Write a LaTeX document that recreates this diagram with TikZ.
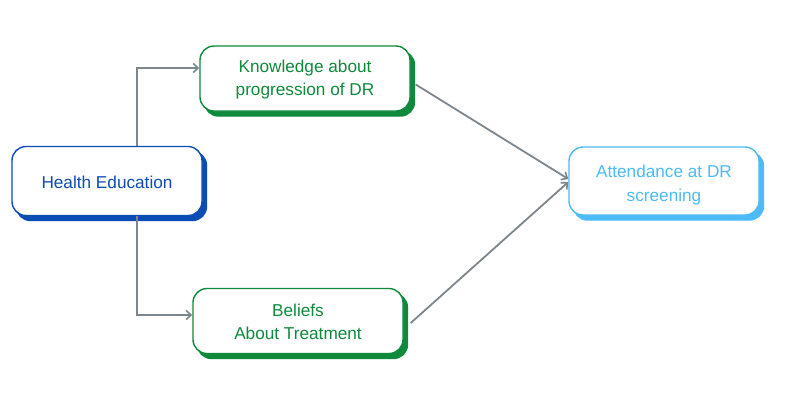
\documentclass[tikz,border=0pt]{standalone}
\usepackage{fontspec}
\setmainfont{Liberation Sans}
\usetikzlibrary{arrows.meta,shadows,calc}
\definecolor{heblue}{HTML}{0B4DB5}
\definecolor{kgreen}{HTML}{0F8A3C}
\definecolor{lblue}{HTML}{4DBBF7}
\definecolor{arrgray}{HTML}{7D868D}
\tikzset{
  box/.style={draw=#1, text=#1, fill=white, rounded corners=14pt, line width=1.4pt,
    align=center, font=\fontsize{17.2}{23.5}\selectfont,
    general shadow={shadow xshift=4.5pt, shadow yshift=-5pt, fill=#1, draw=#1}},
  conn/.style={draw=arrgray, line width=1.8pt, -{Straight Barb[length=5pt,width=9pt,line width=1.6pt]}}
}
\begin{document}
\begin{tikzpicture}[x=1pt,y=-1pt]
\useasboundingbox[fill=white] (0,0) rectangle (800,400);
\node[box=heblue, minimum width=190pt, minimum height=69pt] (he) at (107,181) {\rule{0pt}{16pt}Health Education};
\node[box=kgreen, minimum width=210pt, minimum height=65pt] (kn) at (305,78.5) {\rule{0pt}{15pt}Knowledge about\\progression of DR};
\node[box=kgreen, minimum width=210pt, minimum height=65pt] (be) at (298,321) {\rule{0pt}{14pt}Beliefs\\About Treatment};
\node[box=lblue, minimum width=190pt, minimum height=68pt] (at) at (664,181) {\rule{0pt}{21pt}Attendance at DR\\screening};
\coordinate (knin) at ($(kn.west)+(0,-10.5)$);
\coordinate (bein) at ($(be.west)+(0,-6)$);
\draw[conn] ($(he.north)+(30,0)$) |- (knin);
\draw[conn] ($(he.south)+(30,0)$) |- (bein);
\draw[conn] ($(kn.east)+(5,6)$) -- ($(at.west)+(0,-2)$);
\draw[conn] ($(be.east)+(7,2)$) -- ($(at.west)+(0,1)$);
\end{tikzpicture}
\end{document}
